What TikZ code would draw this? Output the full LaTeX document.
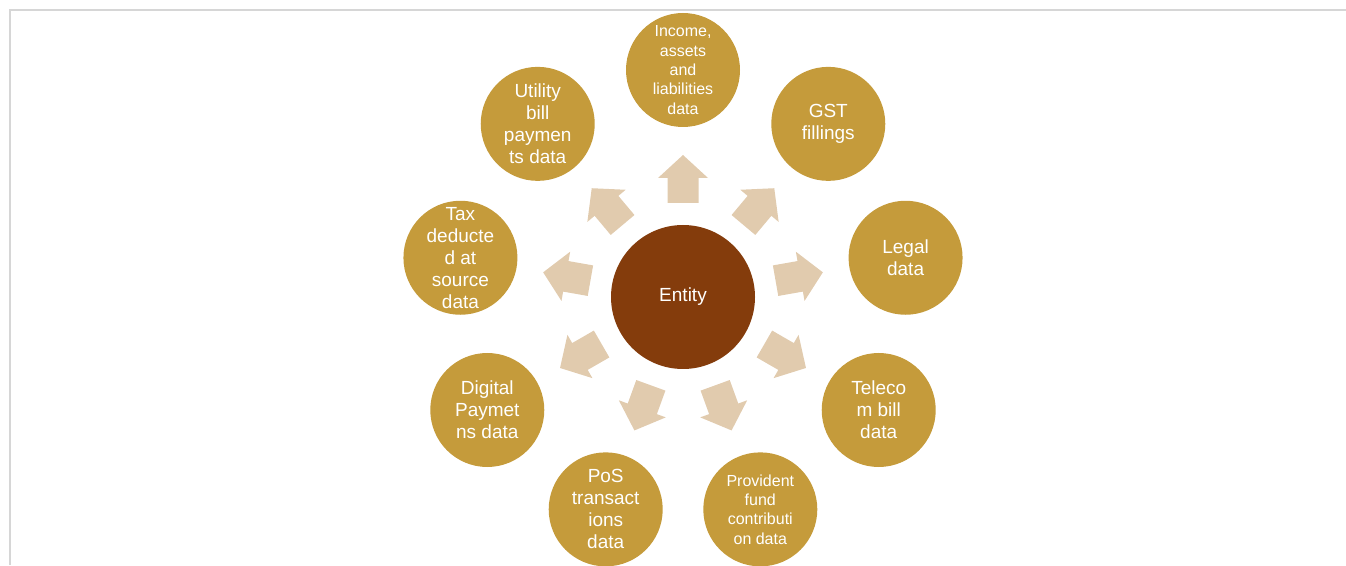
\documentclass[tikz,border=0pt]{standalone}
\usepackage{fontspec}
\setmainfont{Liberation Sans}
\usetikzlibrary{calc}
\begin{document}
\begin{tikzpicture}[x=1pt,y=1pt,
  outer/.style={circle,fill=gold,minimum size=114pt,inner sep=0pt},
  txt/.style={text=white,align=center,inner sep=0pt,font=\fontsize{19}{22}\selectfont},
  smalltxt/.style={text=white,align=center,inner sep=0pt,font=\fontsize{16}{19.3}\selectfont},
  arr/.style={fill=tan,draw=none}]
\definecolor{gold}{HTML}{C59B3B}
\definecolor{brown}{HTML}{843C0C}
\definecolor{tan}{HTML}{E1CBAE}
\definecolor{frame}{HTML}{D6D6D6}
\useasboundingbox (0,0) rectangle (1346,565);
\draw[frame,line width=2pt] (9.5,0) -- (9.5,554.5) -- (1346,554.5);
\coordinate (c) at (683,268);
\node[circle,fill=brown,minimum size=144pt,inner sep=0pt,text=white,font=\fontsize{19}{22}\selectfont] (entity) at (c) {Entity};
\node[outer] (income) at ($(c)+(90:227)$) {};
\node[outer] (gst) at ($(c)+(50:226)$) {};
\node[outer] (legal) at ($(c)+(10:226)$) {};
\node[outer] (telecom) at ($(c)+(-30:226)$) {};
\node[outer] (pf) at ($(c)+(-70:226)$) {};
\node[outer] (pos) at ($(c)+(-110:226)$) {};
\node[outer] (digital) at ($(c)+(-150:226)$) {};
\node[outer] (tax) at ($(c)+(170:226)$) {};
\node[outer] (utility) at ($(c)+(130:226)$) {};
\node[smalltxt] (t-income) at (income) {Income,\\assets\\and\\liabilities\\data};
\node[txt] (t-gst) at (gst) {GST\\fillings};
\node[txt] (t-legal) at (legal) {Legal\\data};
\node[txt] (t-telecom) at (telecom) {Teleco\\m bill\\data};
\node[smalltxt] (t-pf) at (pf) {Provident\\fund\\contributi\\on data};
\node[txt] (t-pos) at (pos) {PoS\\transact\\ions\\data};
\node[txt] (t-digital) at (digital) {Digital\\Paymet\\ns data};
\node[txt] (t-tax) at (tax) {Tax\\deducte\\d at\\source\\data};
\node[txt] (t-utility) at (utility) {Utility\\bill\\paymen\\ts data};
\foreach \a in {90,50,10,-30,-70,-110,-150,170,130}{
  \begin{scope}[shift={(c)},rotate=\a]
    \fill[arr] (94,-15.5) -- (119,-15.5) -- (119,-25) -- (142,0) -- (119,25) -- (119,15.5) -- (94,15.5) -- cycle;
  \end{scope}
}
\end{tikzpicture}
\end{document}
